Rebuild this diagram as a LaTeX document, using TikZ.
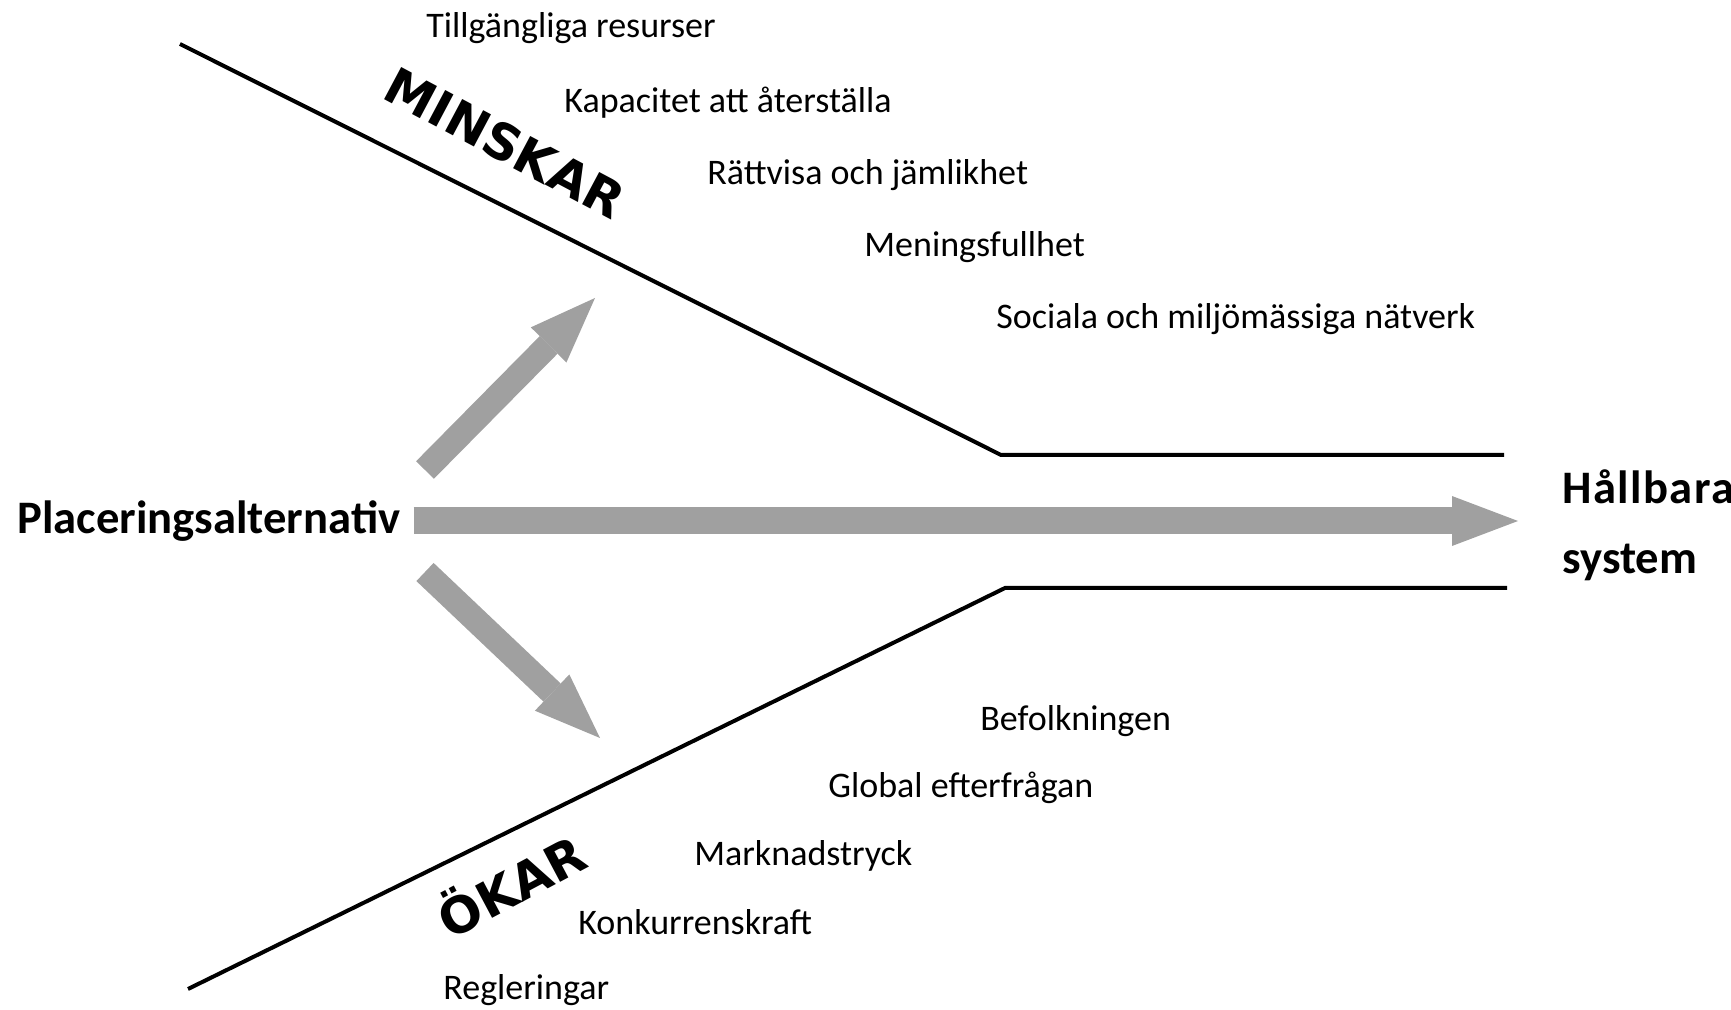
\documentclass[tikz,border=0pt]{standalone}
\usepackage{fontspec}
\setmainfont{Carlito}
\newfontfamily\trendfont{DejaVu Sans}
\usetikzlibrary{arrows.meta}
\definecolor{flowgray}{HTML}{A0A0A0}
\tikzstyle{item}=[anchor=west, inner sep=0pt, font=\fontsize{18}{21}\selectfont]
\tikzstyle{head}=[inner sep=0pt, font=\fontsize{23.3}{35}\selectfont\bfseries]
\tikzstyle{trend}=[inner sep=0pt, font=\trendfont\bfseries\fontsize{25}{30}\selectfont]
\tikzstyle{wall}=[line width=2pt]
\tikzstyle{flow}=[draw=flowgray, line width=13.5pt, -{Triangle[length=33pt,width=25pt,line width=0pt]}]

\begin{document}
\begin{tikzpicture}[x=0.5pt,y=-0.5pt]
    \useasboundingbox (0,0) rectangle (1731,1010);
    \draw[wall] (180,44) -- (1001,455) -- (1504,455);
    \draw[wall] (188,989) -- (1005,588) -- (1507,588);
    \node[head, anchor=west] (alt) at (17,521) {Placeringsalternativ};
    \node[head, anchor=west, align=left] (sys) at (1562,525) {{\addfontfeature{LetterSpace=3}Hållbara}\\system};
    \node[trend, rotate=-28] (minskar) at (505,143) {MINSKAR};
    \node[trend, rotate=28] (okar) at (510,883) {ÖKAR};
    \node[item] (res1) at (426,28) {Tillgängliga resurser};
    \node[item] (res2) at (564,103) {Kapacitet att återställa};
    \node[item] (res3) at (707,175) {Rättvisa och jämlikhet};
    \node[item] (res4) at (864,247) {Meningsfullhet};
    \node[item] (res5) at (996,319) {Sociala och miljömässiga nätverk};
    \node[item] (drv1) at (980,721) {Befolkningen};
    \node[item] (drv2) at (828,788) {Global efterfrågan};
    \node[item] (drv3) at (694,856) {Marknadstryck};
    \node[item] (drv4) at (578,922) {Konkurrenskraft};
    \node[item] (drv5) at (443,990) {Regleringar};
    \coordinate (up0) at (425,470);
    \coordinate (up1) at (595,298);
    \coordinate (dn0) at (425,572);
    \coordinate (dn1) at (600,738);
    \draw[flow, shorten <=6.5pt, shorten >=22pt] (alt.east) -- (alt.east -| sys.west);
    \draw[flow, line width=12.5pt] (up0) -- (up1);
    \draw[flow, line width=12.5pt] (dn0) -- (dn1);
\end{tikzpicture}
\end{document}
